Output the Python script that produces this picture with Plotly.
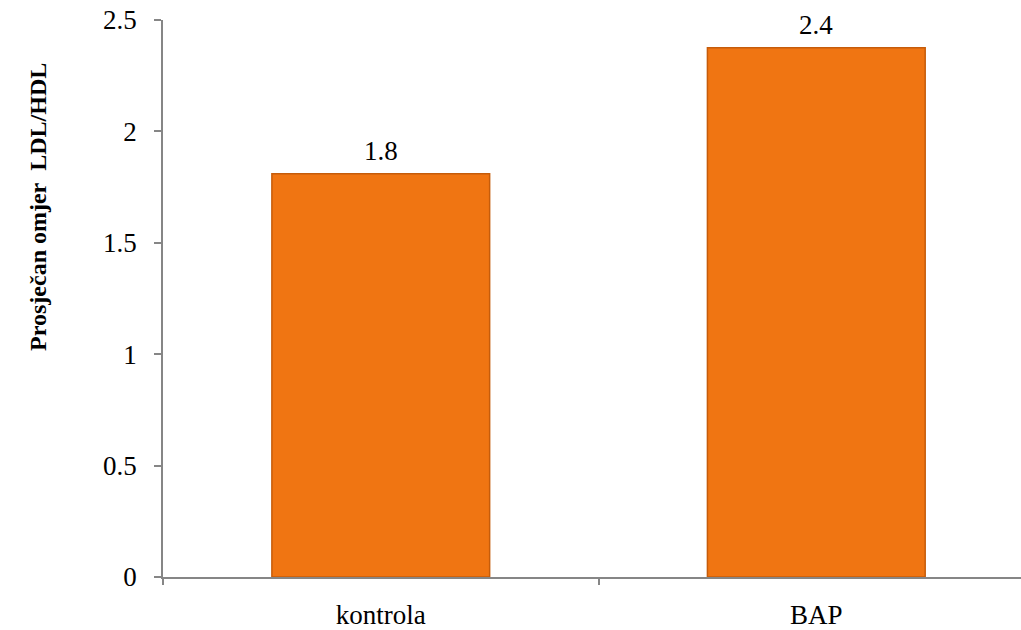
import plotly.graph_objects as go

categories = ["kontrola", "BAP"]
values = [1.81, 2.375]
y_ticks = [0, 0.5, 1, 1.5, 2, 2.5]
y_tick_labels = ["0", "0.5", "1", "1.5", "2", "2.5"]
y_title = "Prosječan omjer&nbsp; LDL/HDL"

FONT = "Liberation Serif"
AXIS = "#868686"

fig = go.Figure()
fig.add_trace(go.Bar(
    x=categories, y=values, width=0.5,
    marker=dict(color="#F07512", line=dict(color="#C65C0A", width=1.5)),
    showlegend=False, hoverinfo="skip",
))
for c, v in zip(categories, values):
    fig.add_annotation(x=c, y=v, text=f"{v:.1f}", showarrow=False,
                       yanchor="bottom", yshift=6,
                       font=dict(family=FONT, size=27, color="#000"))

fig.add_annotation(xref="paper", yref="paper", x=-0.146, y=0.664,
                   xanchor="center", yanchor="middle",
                   text=f"<b>{y_title}</b>", textangle=-90, showarrow=False,
                   font=dict(family=FONT, size=24, color="#000"))

fig.update_layout(
    width=1021, height=630,
    margin=dict(l=163, r=0, t=20, b=53),
    paper_bgcolor="white", plot_bgcolor="white",
    xaxis=dict(type="category", range=[-0.5, 1.47], showline=True, linecolor=AXIS,
               linewidth=1.5, ticks="outside", tickson="boundaries", ticklen=6,
               tickcolor=AXIS, tickwidth=1.5, showgrid=False, automargin=False,
               tickfont=dict(family=FONT, size=27, color="#000"),
               ticklabelstandoff=13),
    yaxis=dict(range=[0, 2.5], tickvals=y_ticks, ticktext=y_tick_labels,
               showline=True, linecolor=AXIS, linewidth=1.5, ticks="outside",
               ticklen=7, tickcolor=AXIS, tickwidth=1.5, showgrid=False,
               zeroline=False, automargin=False,
               tickfont=dict(family=FONT, size=27, color="#000"),
               ticklabelstandoff=12),
)

fig.write_html("out.html", config={"displayModeBar": False},
               post_script="document.body.style.margin='0';")
